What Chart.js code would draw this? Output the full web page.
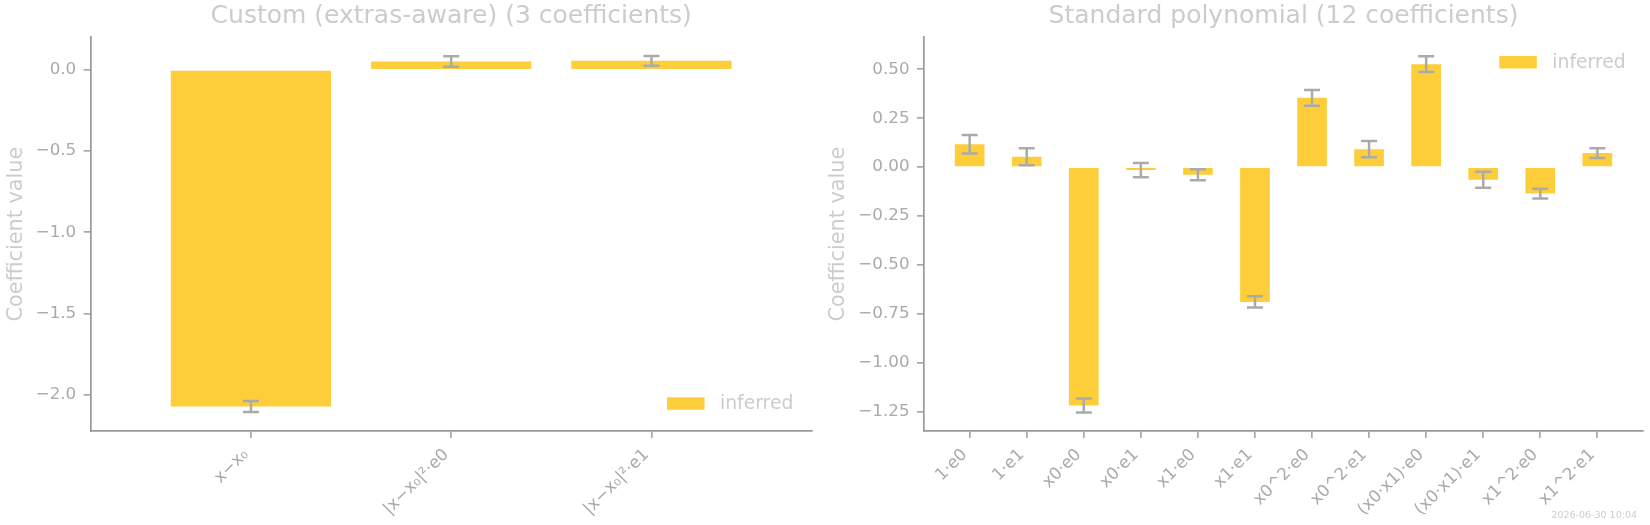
<!DOCTYPE html>
<html>
<head>
<meta charset="utf-8">
<script src="https://cdn.jsdelivr.net/npm/chart.js@4.4.1/dist/chart.umd.min.js"></script>
<style>
    body { margin: 0; background: #fff; }
    #wrap { position: relative; width: 1650px; height: 525px; }
    canvas { position: absolute; top: 0; }
    #left { left: 0; }
    #right { left: 825px; }
    #stamp { position: absolute; right: 13px; top: 510px; font: 9.5px 'DejaVu Sans'; line-height: 1; color: #cccccc; }
</style>
</head>
<body>
<div id="wrap">
    <canvas id="left" width="825" height="525"></canvas>
    <canvas id="right" width="825" height="525"></canvas>
    <div id="stamp">2026-06-30 10:04</div>
</div>
<script>
const customTerms = ['x−x₀', '|x−x₀|²·e0', '|x−x₀|²·e1'];
const customValues = [-2.073, 0.052, 0.056];
const customErrors = [0.034, 0.032, 0.030];
const customTicks = [-2.0, -1.5, -1.0, -0.5, 0.0];

const polyTerms = ['1·e0', '1·e1', 'x0·e0', 'x0·e1', 'x1·e0', 'x1·e1',
    'x0^2·e0', 'x0^2·e1', '(x0·x1)·e0', '(x0·x1)·e1', 'x1^2·e0', 'x1^2·e1'];
const polyValues = [0.117, 0.053, -1.217, -0.015, -0.039, -0.688, 0.354, 0.092, 0.526, -0.064, -0.135, 0.072];
const polyErrors = [0.047, 0.043, 0.036, 0.036, 0.028, 0.029, 0.040, 0.041, 0.040, 0.041, 0.025, 0.025];
const polyTicks = [-1.25, -1.0, -0.75, -0.5, -0.25, 0.0, 0.25, 0.5];

const FONT = 'DejaVu Sans';
const BAR = '#fece3a';

// error bars drawn on top of the bars, positions from the y scale
const errorBars = {
    id: 'errorBars',
    afterDatasetsDraw(chart) {
        const ctx = chart.ctx;
        const y = chart.scales.y;
        chart.data.datasets.forEach((ds, di) => {
            chart.getDatasetMeta(di).data.forEach((bar, i) => {
                const v = ds.data[i].y;
                const top = y.getPixelForValue(v + ds.errors[i]);
                const bottom = y.getPixelForValue(v - ds.errors[i]);
                ctx.save();
                ctx.strokeStyle = '#aaaaaa';
                ctx.lineWidth = 2.5;
                ctx.beginPath();
                ctx.moveTo(bar.x, top);
                ctx.lineTo(bar.x, bottom);
                ctx.moveTo(bar.x - 8, top);
                ctx.lineTo(bar.x + 8, top);
                ctx.moveTo(bar.x - 8, bottom);
                ctx.lineTo(bar.x + 8, bottom);
                ctx.stroke();
                ctx.restore();
            });
        });
    }
};

// legend placed inside the axes like matplotlib's
const innerLegend = {
    id: 'innerLegend',
    afterDraw(chart, args, opts) {
        const {ctx, chartArea} = chart;
        const ds = chart.data.datasets[0];
        const x = chartArea.right - opts.right;
        const y = opts.top != null ? chartArea.top + opts.top : chartArea.bottom - opts.bottom;
        ctx.save();
        ctx.fillStyle = ds.backgroundColor;
        ctx.fillRect(x, y, 37.5, 12.5);
        ctx.fillStyle = '#cccccc';
        ctx.font = '18.75px "' + FONT + '"';
        ctx.textBaseline = 'middle';
        ctx.fillText(ds.label, x + 53, y + 7);
        ctx.restore();
    }
};

function makeChart(id, title, terms, values, errors, yTicks, opts) {
    return new Chart(document.getElementById(id), {
        type: 'bar',
        data: {
            datasets: [{
                label: 'inferred',
                data: values.map((v, i) => ({x: i, y: v})),
                errors: errors,
                backgroundColor: BAR,
                barPercentage: opts.barPct,
                categoryPercentage: 1
            }]
        },
        plugins: [errorBars, innerLegend],
        options: {
            responsive: false,
            animation: false,
            layout: {padding: {left: 0, right: opts.padRight, top: 0, bottom: 0}},
            plugins: {
                legend: {display: false},
                tooltip: {enabled: false},
                title: {
                    display: true,
                    text: title,
                    fullSize: false,
                    color: '#cccccc',
                    font: {family: FONT, size: 25, weight: 'normal'},
                    padding: {top: 1, bottom: 6.3}
                },
                innerLegend: opts.legend
            },
            scales: {
                x: {
                    type: 'linear',
                    offset: false,
                    min: -0.8,
                    max: terms.length - 0.2,
                    afterBuildTicks: s => { s.ticks = terms.map((t, i) => ({value: i})); },
                    afterFit: s => { s.height = 94; },
                    ticks: {
                        callback: v => terms[v],
                        minRotation: 45,
                        maxRotation: 45,
                        color: '#aaaaaa',
                        font: {family: FONT, size: 16.7},
                        padding: 7,
                        labelOffset: -5
                    },
                    grid: {offset: false, drawOnChartArea: false, tickLength: 7, color: '#aaaaaa', lineWidth: 1.7},
                    border: {color: '#999999', width: 1.7}
                },
                y: {
                    min: opts.yMin,
                    max: opts.yMax,
                    afterBuildTicks: s => { s.ticks = yTicks.map(v => ({value: v})); },
                    afterFit: s => { s.width = opts.yWidth; },
                    ticks: {
                        callback: v => (v < 0 ? '−' : '') + Math.abs(v).toFixed(opts.decimals),
                        color: '#aaaaaa',
                        font: {family: FONT, size: 16.7},
                        padding: 7.5
                    },
                    grid: {drawOnChartArea: false, tickLength: 7, color: '#aaaaaa', lineWidth: 1.7},
                    border: {color: '#999999', width: 1.7},
                    title: {
                        display: true,
                        text: 'Coefficient value',
                        color: '#cccccc',
                        font: {family: FONT, size: 20.8},
                        padding: {top: opts.yTitlePad, bottom: 0}
                    }
                }
            }
        }
    });
}

makeChart('left', 'Custom (extras-aware) (3 coefficients)', customTerms, customValues, customErrors, customTicks, {
    barPct: 0.8, padRight: 13.3, yWidth: 90.7, yMin: -2.224, yMax: 0.201, decimals: 1, yTitlePad: 4,
    legend: {right: 144.7, bottom: 33.7}
});

makeChart('right', 'Standard polynomial (12 coefficients)', polyTerms, polyValues, polyErrors, polyTicks, {
    barPct: 0.52, padRight: 7, yWidth: 99, yMin: -1.347, yMax: 0.663, decimals: 2, yTitlePad: 1,
    legend: {right: 143.7, top: 18.7}
});
</script>
</body>
</html>
